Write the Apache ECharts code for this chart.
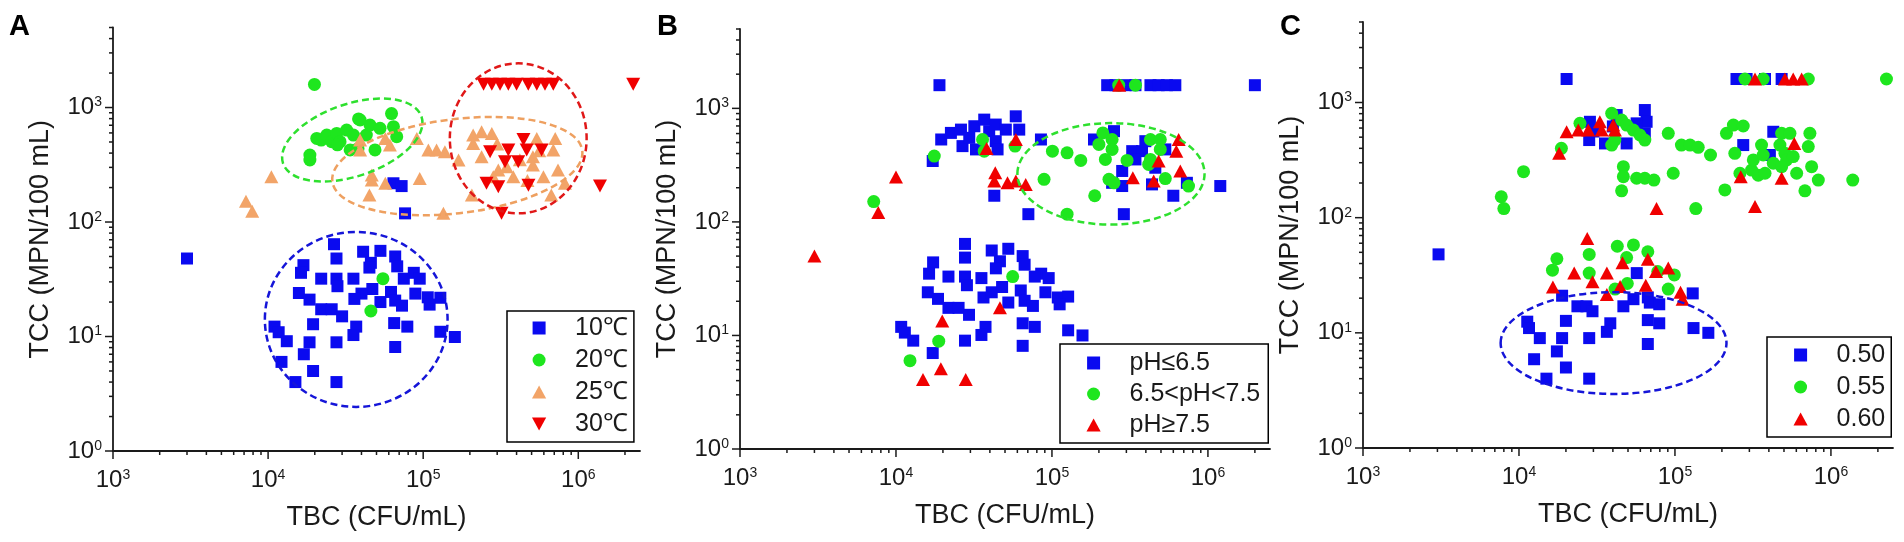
<!DOCTYPE html>
<html>
<head>
<meta charset="utf-8">
<title>TBC vs TCC</title>
<script src="https://cdn.jsdelivr.net/npm/echarts@6.0.0/dist/echarts.min.js"></script>
<style>
  html, body { margin: 0; padding: 0; background: #fff; }
  #chart { width: 1904px; height: 542px; }
</style>
</head>
<body>
<div id="chart"></div>
<script>
/**---------------------------------------------------------------------------------------------------------------------
 * Data
 *-------------------------------------------------------------------------------------------------------------------*/
const xRange = [1e3, 2.5e6];
const yRange = [1, 5000];
const xTickValues = [1e3, 1e4, 1e5, 1e6];
const yTickValues = [1, 10, 100, 1000];

const xAxisTitle = 'TBC (CFU/mL)';
const yAxisTitle = 'TCC (MPN/100 mL)';

// A - temperature
const tempNames = ['10℃', '20℃', '25℃', '30℃'];
const temp10 = [[3000,48],[26600,64],[27600,48],[41000,55],[53000,56],[46000,44],[45000,40],[66000,50],[68000,41],
  [16900,42],[16300,36],[22000,32],[27600,32],[35500,32],[28000,27.5],[87000,36],[95000,32],[75000,32],
  [47000,26],[40000,23.7],[36000,21.3],[15800,24],[18500,21],[22000,17.3],[25700,17.3],[30000,15],
  [62000,24.5],[66000,20.6],[53000,20],[89000,23.7],[107000,22],[129000,21.8],[110000,19],[73000,18.6],
  [11000,12.2],[11700,10.9],[13200,9.1],[19500,12.8],[37000,12.2],[35500,10.3],[65000,13.1],[79000,12.2],
  [18500,8.9],[27600,8.9],[66000,8.1],[129000,11],[160000,9.9],[17000,7],[12200,6],[19500,5],[15000,4],[27600,4],
  [64300,218],[72600,206],[76400,119]];
const temp20 = [[19900,1590],[18600,385],[18600,348],[20600,537],[22000,520],[23900,575],[25700,503],[27700,594],
  [29100,503],[28000,472],[32100,635],[33800,426],[35500,575],[38300,795],[39200,778],[38000,437],[43000,575],
  [45400,703],[48900,426],[52700,658],[62500,885],[64300,680],[67500,556],[55000,32],[46000,16.7]];
const temp25 = [[7200,152],[7900,124],[10500,249],[39200,520],[39200,426],[57000,537],[61000,470],[91000,537],
  [108000,426],[122000,426],[138000,411],[169000,348],[46600,257],[46600,233],[57000,218],[95000,240],[45000,172],
  [135000,119],[210000,575],[238000,615],[277000,594],[210000,486],[238000,372],[305000,285],[283000,249],
  [381000,249],[510000,372],[540000,537],[510000,315],[596000,249],[710000,537],[690000,426],[740000,285],
  [820000,218],[670000,172],[206000,172],[345000,304],[300000,480],[420000,350],[470000,230],[560000,420]];
const temp30 = [[245000,1600],[277000,1600],[313000,1600],[354000,1600],[400000,1600],[476000,1600],[540000,1600],
  [610000,1600],[690000,1600],[2260000,1600],[443000,527],[270000,411],[354000,426],[465000,426],[580000,426],
  [337000,336],[410000,336],[256000,218],[305000,203],[477000,210],[1380000,206],[320000,119]];

// B - pH
const phNames = ['pH≤6.5', '6.5<pH<7.5', 'pH≥7.5'];
const phLow = [[19000,1600],[226000,1600],[255000,1600],[296000,1600],[343000,1600],[428000,1600],[483000,1600],
  [546000,1600],[618000,1600],[2000000,1600],
  [19500,532],[22500,608],[26100,650],[26700,465],[31800,696],[36800,796],[39600,630],[43600,720],[43600,514],
  [50600,650],[58600,851],[61700,650],[32600,435],[44800,435],[17200,344],[29500,550],[85000,532],
  [42700,170],[70600,117],[1200000,207],[186000,532],[250000,630],[289000,117],
  [327000,420],[378000,420],[397000,514],[282000,281],[243000,221],[282000,207],[438000,214],[600000,170],
  [733000,221],[533000,435],[343000,355],[460000,300],
  [27700,64],[27700,48.5],[41100,56],[52500,58],[46400,45],[43700,39],[64900,50],[66800,42],[17300,44],[16300,35],
  [21700,33],[27700,33],[35300,32],[28500,27.7],[85300,35],[95300,32],[77600,33],[16000,24],[18600,21],[21700,17.5],
  [25200,17.5],[29400,15.2],[36400,21.6],[41100,24],[47900,26.7],[63100,24.9],[66800,20.2],[52500,19.5],[90800,24],
  [109000,21.6],[127000,22],[112000,18.8],[75500,18.2],[10800,11.9],[11400,10.6],[12900,9.0],[37500,11.9],
  [35300,10.1],[64900,12.8],[77600,11.9],[27700,9],[64900,8.1],[127000,11.1],[157000,10],[17200,7]];
const phMid = [[268000,1600],[343000,1600],[7200,151],[17600,380],[35900,532],[36800,420],[58000,465],[100700,420],
  [125000,406],[153000,348],[89000,237],[125000,117],[188000,170],[212000,608],[243000,532],[200000,481],
  [243000,435],[220000,355],[303000,348],[232000,237],[250000,221],[428000,532],[495000,532],[495000,435],
  [428000,355],[417000,321],[533000,241],[751000,207],[56000,33],[18800,8.9],[12300,6.0]];
const phHigh = [[270000,1600],[3000,50],[7700,121],[10000,248],[58700,532],[38100,443],[43300,271],[42700,229],
  [51900,221],[58700,229],[67900,214],[330000,245],[449000,229],[483000,344],[627000,420],[649000,532],
  [665000,281],[19800,13.4],[46400,17.5],[19400,5.1],[14900,4.1],[28000,4.1]];

// C
const awNames = ['0.50', '0.55', '0.60'];
const aw050 = [[20200,1600],[248000,1600],[288000,1600],[378000,1600],[483000,1600],[64100,860],[65800,680],
  [64100,540],[56800,659],[49000,441],[35600,441],[28200,472],[28500,680],[42300,778],[30000,560],[40000,620],
  [274000,427],[427000,557],[406000,350],[3050,48],
  [56900,33],[18900,21],[23700,17],[27100,17],[29600,15.4],[46700,17],[54200,19.6],[67000,20.3],[69000,18.3],
  [79300,17.7],[130000,22],[11300,12.5],[11600,11],[13600,9],[20000,12.7],[18900,9],[28200,9],[38500,12.1],
  [36600,10.2],[67000,12.9],[79300,12.1],[131500,11],[163700,10],[67000,8],[17500,6.9],[12500,5.9],[20000,5],
  [15000,4],[28200,4]];
const aw055 = [[2270000,1600],[281000,1600],[368000,1600],[716000,1600],
  [10700,251],[7700,152],[8000,120],[18700,400],[24600,659],[39300,805],[45500,704],[49000,637],[54100,576],
  [59600,522],[64100,472],[39300,427],[41200,472],[90600,540],[110000,427],[125000,427],[141000,408],[169000,350],
  [46700,277],[46700,227],[56800,220],[64100,220],[73300,212],[97500,243],[45500,171],[136000,120],[209000,174],
  [214000,540],[237000,637],[274000,625],[242000,362],[261000,243],[310000,259],[318000,317],[359000,427],
  [368000,350],[342000,234],[378000,243],[483000,540],[546000,540],[733000,540],[471000,427],[507000,362],
  [520000,317],[573000,339],[716000,414],[603000,243],[752000,277],[830000,212],[681000,171],[1380000,212],
  [427000,297],[483000,277],
  [28200,48],[42700,56.5],[54200,58],[67000,50.6],[49000,45],[17500,44],[16400,35],[28200,33],[99100,31.8],
  [90600,24],[41300,24],[49500,26.8],[77600,34]];
const aw060 = [[326000,1600],[507000,1600],[573000,1600],[649000,1600],
  [20200,557],[24000,577],[27800,577],[33000,681],[33900,577],[40200,637],[41200,577],[18100,362],[76200,120],
  [264000,227],[483000,220],[582000,441],[326000,125],
  [27400,66],[46100,40.6],[67000,43.5],[22600,33],[36600,33],[29600,27.7],[90600,36.6],[75500,34],[16500,25],
  [65000,25.9],[44500,25.3],[36600,21.5],[108600,22.5],[112000,19.6]];

// dashed ellipses: [centre x, centre y, half width (x decades), half height (y decades), tilt (deg)]
const ellipsesA = [[37000, 14.1, 0.589, 0.764, 0], [34900, 520, 0.471, 0.316, 18.6],
  [166000, 308, 0.812, 0.411, 7], [410000, 538, 0.441, 0.655, 0]];
const ellipsesB = [[239000, 265, 0.600, 0.447, 0]];
const ellipsesC = [[40400, 8.15, 0.724, 0.442, 0]];

/**---------------------------------------------------------------------------------------------------------------------
 * Styling / layout
 *-------------------------------------------------------------------------------------------------------------------*/
const FONT = '"Liberation Sans", Arial, sans-serif';
const BLUE = '#0a0af0', GREEN = '#1ee61e', ORANGE = '#f2a468', RED = '#f00000';
const AXIS_COLOR = '#1a1a1a';

// path icons keep their aspect inside the (wide) legend icon box
const ICONS = {
  rect: 'path://M0,0H10V10H0Z',
  circle: 'path://M5,0A5,5,0,1,1,5,10A5,5,0,1,1,5,0Z',
  triangle: 'path://M6,0L12,11L0,11Z',
  down: 'path://M0,0L12,0L6,11Z'
};

const panels = [
  {
    letter: 'A', letterX: 9,
    grid: { left: 113, right: 1264, top: 27.5, bottom: 91 },
    series: [
      { name: tempNames[0], data: temp10, symbol: 'rect', color: BLUE },
      { name: tempNames[1], data: temp20, symbol: 'circle', color: GREEN },
      { name: tempNames[2], data: temp25, symbol: 'triangle', color: ORANGE },
      { name: tempNames[3], data: temp30, symbol: 'down', color: RED }
    ],
    ellipses: ellipsesA,
    ellipseColors: ['#1515d8', '#2ee02e', '#eea060', '#e01818'],
    legend: { left: 507, top: 311, gap: 6, padding: [4, 6, 5, 25] }
  },
  {
    letter: 'B', letterX: 657,
    grid: { left: 740, right: 634, top: 29, bottom: 93 },
    series: [
      { name: phNames[0], data: phLow, symbol: 'rect', color: BLUE },
      { name: phNames[1], data: phMid, symbol: 'circle', color: GREEN },
      { name: phNames[2], data: phHigh, symbol: 'triangle', color: RED }
    ],
    ellipses: ellipsesB,
    ellipseColors: ['#2ee02e'],
    legend: { left: 1060, top: 344, gap: 5, padding: [6, 8, 5, 26.5] }
  },
  {
    letter: 'C', letterX: 1280,
    grid: { left: 1363, right: 11, top: 22, bottom: 94 },
    series: [
      { name: awNames[0], data: aw050, symbol: 'rect', color: BLUE },
      { name: awNames[1], data: aw055, symbol: 'circle', color: GREEN },
      { name: awNames[2], data: aw060, symbol: 'triangle', color: RED }
    ],
    ellipses: ellipsesC,
    ellipseColors: ['#1515d8'],
    legend: { left: 1767, top: 337, gap: 6, padding: [5, 6, 5, 26.5] }
  }
];

const symbolSizes = { rect: 12, circle: 13, triangle: [14, 13], down: [14, 13] };

/**---------------------------------------------------------------------------------------------------------------------
 * Helpers
 *-------------------------------------------------------------------------------------------------------------------*/
function powerLabel(value) {
  const exp = Math.log10(value);
  if (Math.abs(exp - Math.round(exp)) > 1e-6) {
    return '';
  }
  return '{b|10}{s|' + Math.round(exp) + '}';
}

const labelRich = {
  b: { fontSize: 24, fontFamily: FONT, color: AXIS_COLOR },
  s: { fontSize: 14, fontFamily: FONT, color: AXIS_COLOR, verticalAlign: 'top' }
};

// major ticks plus 2..9 minor ticks of every decade inside the range
function logTicks(majors, max) {
  let ticks = [];
  majors.forEach(function (d) {
    ticks.push([d, 8]);
    for (let m = 2; m <= 9; m++) {
      if (d * m <= max) ticks.push([d * m, 4]);
    }
  });
  return ticks;
}

function xTickItem(params, api) {
  let p = api.coord([api.value(0), yRange[0]]);
  return {
    type: 'line',
    shape: { x1: p[0], y1: p[1], x2: p[0], y2: p[1] + api.value(1) },
    style: { stroke: AXIS_COLOR, lineWidth: 1.5 }
  };
}

function yTickItem(params, api) {
  let p = api.coord([xRange[0], api.value(0)]);
  return {
    type: 'line',
    shape: { x1: p[0] - api.value(1), y1: p[1], x2: p[0], y2: p[1] },
    style: { stroke: AXIS_COLOR, lineWidth: 1.5 }
  };
}

function ellipseItem(params, api) {
  let cx = api.value(0), cy = api.value(1);
  let c = api.coord([cx, cy]);
  let px = api.coord([cx * Math.pow(10, api.value(2)), cy]);
  let py = api.coord([cx, cy * Math.pow(10, api.value(3))]);
  return {
    type: 'ellipse',
    x: c[0], y: c[1],
    rotation: api.value(4) * Math.PI / 180,
    shape: { cx: 0, cy: 0, rx: Math.abs(px[0] - c[0]), ry: Math.abs(py[1] - c[1]) },
    style: { fill: 'none', stroke: api.visual('color'), lineWidth: 2.5, lineDash: [7, 4] }
  };
}

/**---------------------------------------------------------------------------------------------------------------------
 * Build option
 *-------------------------------------------------------------------------------------------------------------------*/
let option = {
  backgroundColor: '#fff',
  animation: false,
  grid: [], xAxis: [], yAxis: [], series: [], legend: [], graphic: []
};

const xTicks = logTicks(xTickValues, xRange[1]);
const yTicks = logTicks(yTickValues, yRange[1]);

panels.forEach(function (panel, i) {
  option.grid.push(panel.grid);
  option.xAxis.push({
    type: 'log', logBase: 10, gridIndex: i, min: xRange[0], max: xRange[1],
    name: xAxisTitle, nameLocation: 'middle', nameGap: 53,
    nameTextStyle: { fontSize: 27, fontFamily: FONT, color: AXIS_COLOR },
    axisLine: { lineStyle: { color: AXIS_COLOR, width: 1.8 } },
    axisTick: { show: false },
    splitLine: { show: false },
    axisLabel: { margin: 17, formatter: powerLabel, rich: labelRich }
  });
  option.yAxis.push({
    type: 'log', logBase: 10, gridIndex: i, min: yRange[0], max: yRange[1],
    name: yAxisTitle, nameLocation: 'middle', nameGap: 59,
    nameTextStyle: { fontSize: 27, fontFamily: FONT, color: AXIS_COLOR },
    axisLine: { lineStyle: { color: AXIS_COLOR, width: 1.8 } },
    axisTick: { show: false },
    splitLine: { show: false },
    axisLabel: { margin: 11, formatter: powerLabel, rich: labelRich }
  });

  panel.series.forEach(function (s) {
    option.series.push({
      type: 'scatter', name: s.name, xAxisIndex: i, yAxisIndex: i,
      data: s.data,
      symbol: s.symbol === 'down' ? ICONS.down : s.symbol,
      symbolSize: symbolSizes[s.symbol],
      itemStyle: { color: s.color, opacity: 1 },
      emphasis: { disabled: true }
    });
  });

  panel.ellipses.forEach(function (e, k) {
    option.series.push({
      type: 'custom', xAxisIndex: i, yAxisIndex: i, renderItem: ellipseItem,
      data: [e], encode: { x: 0, y: 1 }, itemStyle: { color: panel.ellipseColors[k] },
      silent: true, z: 3
    });
  });

  option.series.push({
    type: 'custom', xAxisIndex: i, yAxisIndex: i, renderItem: xTickItem,
    data: xTicks, encode: { x: 0 }, silent: true
  });
  option.series.push({
    type: 'custom', xAxisIndex: i, yAxisIndex: i, renderItem: yTickItem,
    data: yTicks, encode: { y: 0 }, silent: true
  });

  option.legend.push({
    data: panel.series.map(function (s) { return { name: s.name, icon: ICONS[s.symbol] }; }),
    orient: 'vertical', left: panel.legend.left, top: panel.legend.top,
    padding: panel.legend.padding, itemGap: panel.legend.gap, itemWidth: 62, itemHeight: 13,
    symbolKeepAspect: true,
    borderColor: '#000', borderWidth: 1.5, borderRadius: 0, selectedMode: false,
    textStyle: { fontSize: 25, lineHeight: 26, fontFamily: FONT, color: AXIS_COLOR }
  });

  option.graphic.push({
    type: 'text', left: panel.letterX, top: 12,
    style: { text: panel.letter, font: 'bold 29px ' + FONT, fill: '#000' }
  });
});

let chart = echarts.init(document.getElementById('chart'));
chart.setOption(option);
</script>
</body>
</html>
